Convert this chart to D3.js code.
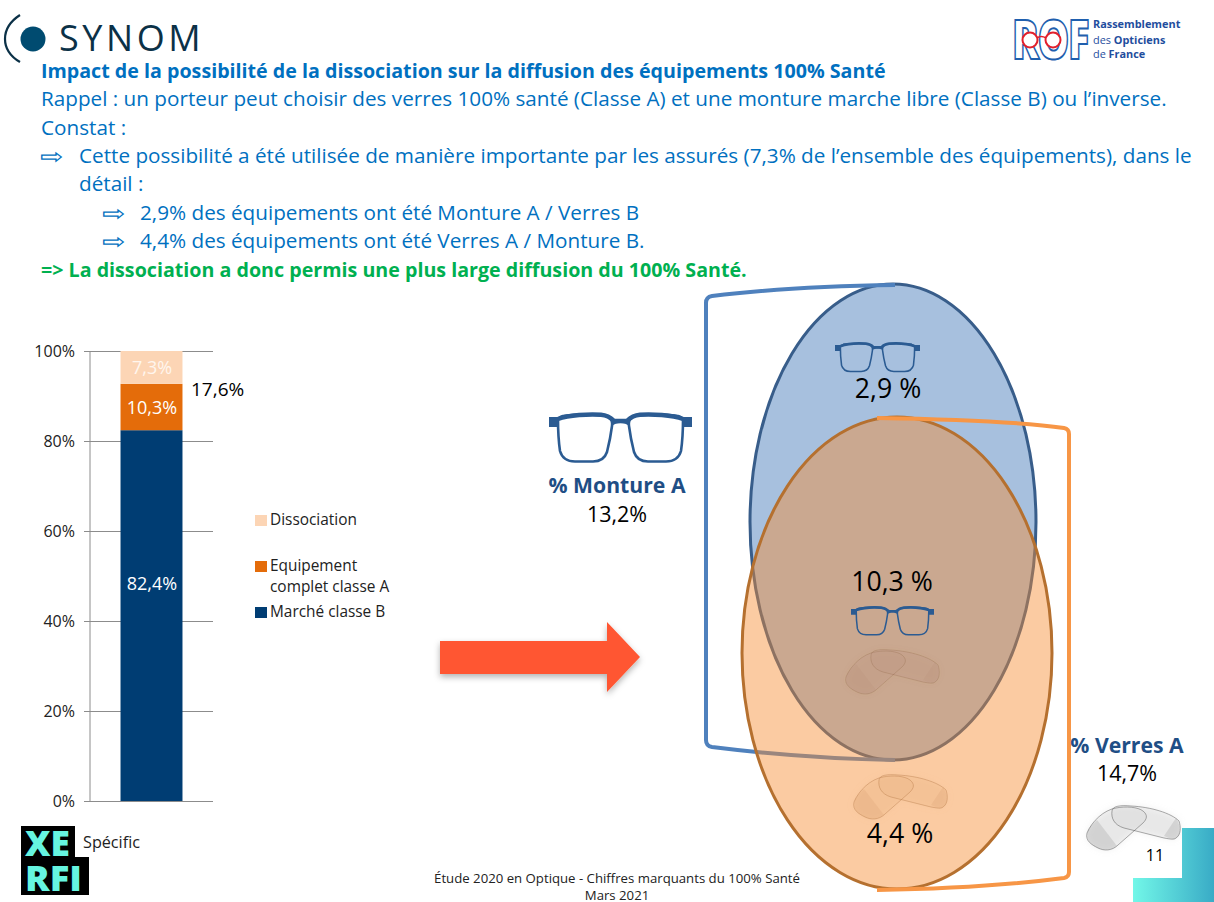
<!DOCTYPE html>
<html>
<head>
<meta charset="utf-8">
<script src="https://cdnjs.cloudflare.com/ajax/libs/d3/7.8.5/d3.min.js"></script>
<style>
  html, body { margin: 0; padding: 0; background: #fff; }
  svg { display: block; }
  text { font-family: "Open Sans", sans-serif; }
</style>
</head>
<body>
<svg id="chart" width="1214" height="902"></svg>
<script>
// chart data
const categories = ["Marché classe B", "Equipement complet classe A", "Dissociation"];
const shares = [82.4, 10.3, 7.3];
const shareLabels = ["82,4%", "10,3%", "7,3%"];
const yTicks = [0, 20, 40, 60, 80, 100];
const totalLabel = "17,6%";
const legendLines = [["Dissociation"], ["Equipement", "complet classe A"], ["Marché classe B"]];

// venn data
const vennLabels = ["2,9 %", "10,3 %", "4,4 %"];
const sideTitles = ["% Monture A", "% Verres A"];
const sideValues = ["13,2%", "14,7%"];

const heading = "Impact de la possibilité de la dissociation sur la diffusion des équipements 100% Santé";
const bodyLines = [
  "Rappel : un porteur peut choisir des verres 100% santé (Classe A) et une monture marche libre (Classe B) ou l’inverse.",
  "Constat :"
];
const bullet1 = ["Cette possibilité a été utilisée de manière importante par les assurés (7,3% de l’ensemble des équipements), dans le", "détail :"];
const bullet2 = ["2,9% des équipements ont été Monture A / Verres B", "4,4% des équipements ont été Verres A / Monture B."];
const conclusion = "=> La dissociation a donc permis une plus large diffusion du 100% Santé.";
const footer = ["Étude 2020 en Optique - Chiffres marquants du 100% Santé", "Mars 2021"];

const colors = { "Marché classe B": "#003d73", "Equipement complet classe A": "#e46c0a", "Dissociation": "#fcd5b5" };
const blue = "#0070c0";

const svg = d3.select("#chart");
const defs = svg.append("defs");

const shadow = defs.append("filter").attr("id", "shadow").attr("x", "-20%").attr("y", "-20%").attr("width", "140%").attr("height", "150%");
shadow.append("feDropShadow").attr("dx", 0).attr("dy", 3).attr("stdDeviation", 3).attr("flood-color", "#000").attr("flood-opacity", 0.3);

const soft = defs.append("filter").attr("id", "soft").attr("x", "-20%").attr("y", "-30%").attr("width", "140%").attr("height", "160%");
soft.append("feGaussianBlur").attr("stdDeviation", 3);

const corner = defs.append("linearGradient").attr("id", "corner");
corner.append("stop").attr("offset", "0%").attr("stop-color", "#72f7e8");
corner.append("stop").attr("offset", "100%").attr("stop-color", "#39abc6");

// ---- header text
const txt = svg.append("g").attr("fill", blue).attr("font-size", 20.7);
txt.append("text").attr("x", 41).attr("y", 78).attr("font-size", 19.67).attr("font-weight", 700).text(heading);
txt.selectAll(".body").data(bodyLines).join("text")
  .attr("x", 41).attr("y", (d, i) => 106 + i * 29).text(d => d);
txt.append("text").attr("x", 40).attr("y", 164).attr("font-family", "DejaVu Sans").attr("font-size", 22)
  .attr("textLength", 23).attr("lengthAdjust", "spacingAndGlyphs").text("⇨");
txt.selectAll(".b1").data(bullet1).join("text")
  .attr("x", 79).attr("y", (d, i) => 163 + i * 28).text(d => d);
txt.selectAll(".arrow2").data(bullet2).join("text")
  .attr("x", 102).attr("y", (d, i) => 221 + i * 28).attr("font-family", "DejaVu Sans").attr("font-size", 22)
  .attr("textLength", 23).attr("lengthAdjust", "spacingAndGlyphs").text("⇨");
txt.selectAll(".b2").data(bullet2).join("text")
  .attr("x", 140).attr("y", (d, i) => 220 + i * 28).text(d => d);
txt.append("text").attr("x", 41).attr("y", 277).attr("font-size", 19.67).attr("font-weight", 700).attr("fill", "#00b050").text(conclusion);

// ---- logos
const synom = svg.append("g");
synom.append("path").attr("d", "M20,15 C0,28 0,50 20,62").attr("fill", "none").attr("stroke", "#0b3147").attr("stroke-width", 2.2);
synom.append("circle").attr("cx", 33).attr("cy", 39).attr("r", 12.5).attr("fill", "#004b70");
synom.append("text").attr("x", 59).attr("y", 51).attr("font-family", "Lato").attr("font-size", 36).attr("letter-spacing", 3.6).attr("fill", "#0b3147").text("SYNOM");

const rof = svg.append("g");
rof.append("text").attr("transform", "translate(1012,59) scale(1,1.37)").attr("font-family", "Roboto").attr("font-weight", 900).attr("font-size", 40)
  .attr("letter-spacing", -1.5).attr("fill", "#fff").attr("stroke", "#1f5fae").attr("stroke-width", 1.4).text("ROF");
rof.selectAll("circle").data([1030, 1053]).join("circle").attr("cx", d => d).attr("cy", 40).attr("r", 7.5)
  .attr("fill", "#fff").attr("stroke", "#e2202c").attr("stroke-width", 2);
rof.append("path").attr("d", "M1037,38Q1041,35 1046,38").attr("fill", "none").attr("stroke", "#e2202c").attr("stroke-width", 1.6);
const rofText = rof.append("g").attr("font-family", "Lato").attr("font-size", 10.9).attr("fill", "#1f4e9e");
rofText.append("text").attr("x", 1093).attr("y", 28).attr("font-weight", 700).text("Rassemblement");
const rof2 = rofText.append("text").attr("x", 1093).attr("y", 44);
rof2.append("tspan").text("des ");
rof2.append("tspan").attr("font-weight", 700).text("Opticiens");
const rof3 = rofText.append("text").attr("x", 1093).attr("y", 58);
rof3.append("tspan").text("de ");
rof3.append("tspan").attr("font-weight", 700).text("France");

const xerfi = svg.append("g");
xerfi.append("path").attr("d", "M21,826H75V857H89V895H21Z").attr("fill", "#000");
const xerfiText = xerfi.append("g").attr("font-family", "Roboto").attr("font-weight", 900).attr("font-size", 36).attr("fill", "#66f5e0");
xerfiText.append("text").attr("x", 25).attr("y", 856).attr("textLength", 45).attr("lengthAdjust", "spacingAndGlyphs").text("XE");
xerfiText.append("text").attr("x", 25).attr("y", 891).attr("textLength", 57).attr("lengthAdjust", "spacingAndGlyphs").text("RFI");
svg.append("text").attr("x", 83).attr("y", 848).attr("font-size", 16.2).attr("fill", "#222").text("Spécific");

// ---- stacked bar
const x = d3.scaleBand().domain(["total"]).range([90, 213]).padding(0.33);
const y = d3.scaleLinear().domain([0, 100]).range([801, 351]);

const row = { total: "total" };
categories.forEach((c, i) => { row[c] = shares[i]; });
const stacked = d3.stack().keys(categories)([row]);

const yAxis = d3.axisLeft(y).tickValues(yTicks).tickFormat(d => d + "%").tickSize(129).tickSizeOuter(0).tickPadding(9);
const axisG = svg.append("g").attr("transform", "translate(213,0)").call(yAxis);
axisG.select(".domain").remove();
axisG.selectAll("line").attr("stroke", "#8c8c8c");
axisG.selectAll("text").attr("font-size", 16).attr("fill", "#222").attr("font-family", "Open Sans").attr("dy", "0.36em");
svg.append("line").attr("x1", 90).attr("x2", 90).attr("y1", y(100)).attr("y2", y(0)).attr("stroke", "#8c8c8c");

svg.append("g").selectAll("rect").data(stacked).join("rect")
  .attr("x", x("total"))
  .attr("width", x.bandwidth())
  .attr("y", d => y(d[0][1]))
  .attr("height", d => y(d[0][0]) - y(d[0][1]))
  .attr("fill", d => colors[d.key]);

svg.append("g").selectAll("text").data(stacked).join("text")
  .attr("x", x("total") + x.bandwidth() / 2 + 0.5)
  .attr("y", (d, i) => (i === 0 ? y(48.5) : y((d[0][0] + d[0][1]) / 2)) + 7)
  .attr("text-anchor", "middle")
  .attr("font-size", 18)
  .attr("fill", (d, i) => i === 2 ? "#fff6ee" : "#fff")
  .text((d, i) => shareLabels[i]);

svg.append("text").attr("x", 191).attr("y", 396).attr("font-family", "Liberation Sans").attr("font-size", 19).attr("fill", "#000").text(totalLabel);

// legend
const legendTop = [515, 561, 607];
const legendKeys = ["Dissociation", "Equipement complet classe A", "Marché classe B"];
const legend = svg.append("g").selectAll("g").data(legendLines).join("g")
  .attr("transform", (d, i) => `translate(255,${legendTop[i]})`);
legend.append("rect").attr("width", 12).attr("height", 11).attr("fill", (d, i) => colors[legendKeys[i]]);
legend.selectAll("text").data(d => d).join("text")
  .attr("x", 15).attr("y", (d, i) => 10 + i * 21)
  .attr("font-size", 15.4).attr("fill", "#222").text(d => d);

// ---- big arrow
svg.append("path").attr("d", "M440,641H607V622L640,657L607,692V674H440Z").attr("fill", "#ff5733").attr("filter", "url(#shadow)");

// ---- venn
svg.append("ellipse").attr("cx", 893).attr("cy", 522).attr("rx", 143).attr("ry", 238)
  .attr("fill", "#4f81bd").attr("fill-opacity", 0.5).attr("stroke", "#385d8a").attr("stroke-width", 3);
svg.append("path").attr("d", "M895,285C830,286 760,290 712,296Q706,297 706,303V740Q706,746 712,747C760,753 830,759 895,760")
  .attr("fill", "none").attr("stroke", "#4f81bd").attr("stroke-width", 4);
svg.append("ellipse").attr("cx", 897).attr("cy", 653).attr("rx", 155).attr("ry", 236)
  .attr("fill", "#f68c31").attr("fill-opacity", 0.45).attr("stroke", "#b5702f").attr("stroke-width", 3);
svg.append("path").attr("d", "M877,418C940,419 1015,421 1064,428Q1069,429 1069,434V872Q1069,877 1064,878C1010,885 940,889 877,890")
  .attr("fill", "none").attr("stroke", "#f79646").attr("stroke-width", 4);

// glasses drawn in a 143 x 51 box
function glasses(px, py, w) {
  const g = svg.append("g").attr("transform", `translate(${px},${py}) scale(${w / 143})`)
    .attr("fill", "none").attr("stroke", "#2b5b92");
  const lens = "M9,8C9,22 10,32 11,39C13,46 18,49.5 26,49.5L44,49.5C52,49.5 56,46 58,40C60,32 62,22 63,14C64,7 60,3.5 52,3C40,2 24,2.5 14,4C11,5 9,6 9,8Z";
  g.append("path").attr("d", lens).attr("stroke-width", 2.6);
  g.append("path").attr("d", lens).attr("stroke-width", 2.6).attr("transform", "translate(143,0) scale(-1,1)");
  g.append("path").attr("d", "M9,7C20,3 40,2 52,2.8C60,3.5 63,7 65,9L78,9C80,7 83,3.5 91,2.8C103,2 123,3 134,7").attr("stroke-width", 4.5);
  g.append("path").attr("d", "M63,8H80V14C76,10 67,10 63,14Z").attr("fill", "#2b5b92").attr("stroke", "none");
  g.append("path").attr("d", "M0,5H10V15H0ZM133,5H143V15H133Z").attr("fill", "#2b5b92").attr("stroke", "none");
}
glasses(549, 412, 143);
glasses(835, 342, 85);
glasses(851, 606, 83);

// pair of lenses drawn in a 94 x 47 box
function lenses(px, py, fill, wedge, edge, halo) {
  const g = svg.append("g").attr("transform", `translate(${px},${py})`);
  const left = "M1,30C6,18 18,7 30,5C40,3 52,4 57,8C62,12 61,16 57,20L32,42C26,48 18,48 12,45C6,42 -1,38 1,30Z";
  const right = "M26,8C26,3 35,2 45,3C65,4 85,10 93,18C95,24 95,32 90,35C88,37 84,36 78,35L38,25C28,22 25,15 26,8Z";
  g.append("path").attr("d", left + right).attr("fill", halo).attr("filter", "url(#soft)");
  g.append("path").attr("d", "M2,27C4,24 7,20 11,17L31,43C26,47 18,48 12,45C6,42 -1,38 2,27Z").attr("fill", wedge);
  g.append("path").attr("d", "M78,33L90,15C95,22 95,32 90,35C88,37 84,36 78,33Z").attr("fill", wedge);
  [left, right].forEach(d => {
    g.append("path").attr("d", d).attr("fill", fill).attr("stroke", edge).attr("stroke-width", 0.9);
  });
}
lenses(1086, 803, "rgba(150,150,150,0.08)", "rgba(120,120,120,0.2)", "rgba(70,70,70,0.5)", "rgba(190,190,190,0.25)");
lenses(853, 772, "rgba(200,130,70,0.06)", "rgba(190,120,60,0.1)", "rgba(170,110,60,0.4)", "rgba(220,170,120,0.15)");
lenses(845, 647, "rgba(120,70,40,0.02)", "rgba(120,70,40,0.04)", "rgba(130,85,55,0.25)", "rgba(150,110,80,0.06)");

const vennX = [888, 892, 900], vennY = [398, 591, 843];
svg.append("g").selectAll("text").data(vennLabels).join("text")
  .attr("x", (d, i) => vennX[i]).attr("y", (d, i) => vennY[i])
  .attr("text-anchor", "middle").attr("font-size", 26.7).attr("fill", "#000").text(d => d);

const sideX = [617, 1127], titleY = [493, 753], valueY = [522, 781];
svg.append("g").selectAll("text").data(sideTitles).join("text")
  .attr("x", (d, i) => sideX[i]).attr("y", (d, i) => titleY[i])
  .attr("text-anchor", "middle").attr("font-size", 21.2).attr("font-weight", 700).attr("fill", "#1f4e85").text(d => d);
svg.append("g").selectAll("text").data(sideValues).join("text")
  .attr("x", (d, i) => sideX[i]).attr("y", (d, i) => valueY[i])
  .attr("text-anchor", "middle").attr("font-size", 21.5).attr("fill", "#000").text(d => d);

// ---- slide furniture
svg.append("path").attr("d", "M1182,828H1214V902H1133V878H1182Z").attr("fill", "url(#corner)");
svg.append("text").attr("x", 1155).attr("y", 861).attr("text-anchor", "middle").attr("font-size", 16).attr("fill", "#000").text("11");
svg.append("g").selectAll("text").data(footer).join("text")
  .attr("x", 617).attr("y", (d, i) => 883 + i * 16.5)
  .attr("text-anchor", "middle").attr("font-family", "DejaVu Sans").attr("font-size", 13.2).attr("fill", "#222").text(d => d);
</script>
</body>
</html>
